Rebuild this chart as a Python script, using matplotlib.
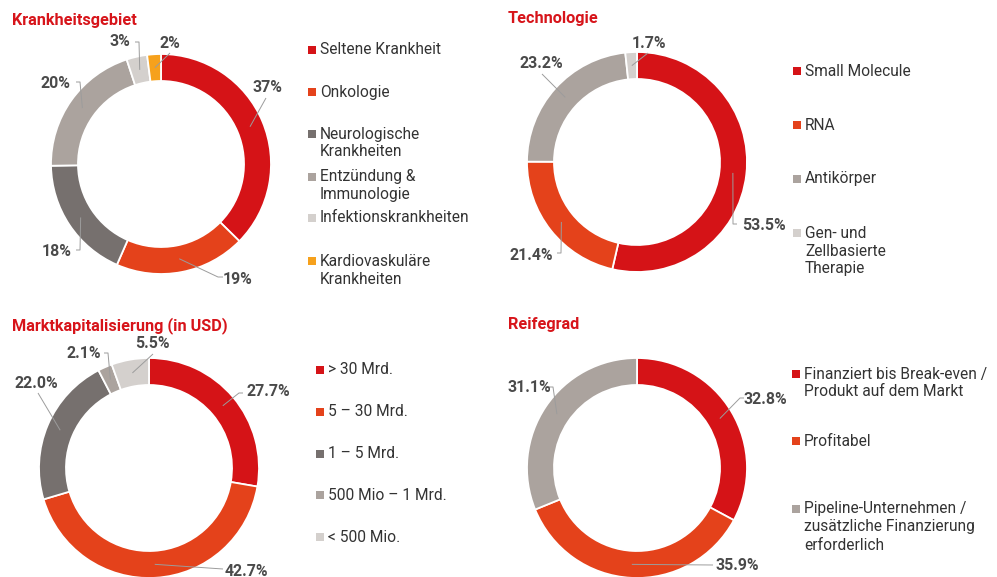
import matplotlib
matplotlib.use("Agg")
import matplotlib.pyplot as plt
import numpy as np

plt.rcParams['font.family'] = ['Roboto', 'DejaVu Sans']

W, H = 997, 577

# ---------------- data ----------------
titles = ["Krankheitsgebiet", "Technologie", "Marktkapitalisierung (in USD)", "Reifegrad"]

disease_labels = ["Seltene Krankheit", "Onkologie", "Neurologische\nKrankheiten",
                  "Entzündung &\nImmunologie", "Infektionskrankheiten",
                  "Kardiovaskuläre\nKrankheiten"]
disease_values = [37, 19, 18, 20, 3, 2]

tech_labels = ["Small Molecule", "RNA", "Antikörper", "Gen- und\nZellbasierte\nTherapie"]
tech_values = [53.5, 21.4, 23.2, 1.7]

cap_labels = ["> 30 Mrd.", "5 – 30 Mrd.", "1 – 5 Mrd.", "500 Mio – 1 Mrd.", "< 500 Mio."]
cap_values = [27.7, 42.7, 22.0, 2.1, 5.5]

mat_labels = ["Finanziert bis Break-even /\nProdukt auf dem Markt", "Profitabel",
              "Pipeline-Unternehmen /\nzusätzliche Finanzierung\nerforderlich"]
mat_values = [32.8, 35.9, 31.1]

# ---------------- style ----------------
RED = "#D51317"
ORANGE = "#E4421B"
DARK = "#76706E"
WARM = "#ABA39E"
LIGHT = "#D4D0CD"
YELLOW = "#F6A11C"
TITLE_C = "#D7141A"
LABEL_C = "#4a4a4a"
TEXT_C = "#333333"
LEAD_C = "#9c9c9c"

R = 110
RING = 27

panels = [
    dict(title=titles[0], tpos=(12, 20), values=disease_values, labels=disease_labels,
         colors=[RED, ORANGE, DARK, WARM, LIGHT, YELLOW], fmt="{:.0f}%",
         center=(161, 164), legx=312, legy=[50, 92, 134, 177, 218, 261],
         lab=[((267, 88), [(266, 98)]),
              ((238, 280), [(218, 277), (223, 277)]),
              ((57, 252), [(80, 250), (76, 250)]),
              ((55, 83), [(80, 82), (76, 82)]),
              ((120, 42), [(139, 42), (135, 42)]),
              ((170, 43), [(170, 53)])]),
    dict(title=titles[1], tpos=(508, 18), values=tech_values, labels=tech_labels,
         colors=[RED, ORANGE, WARM, LIGHT], fmt="{:.1f}%",
         center=(637, 162), legx=797, legy=[71, 125, 179, 233],
         lab=[((764, 225), [(733, 224), (737, 224)]),
              ((531, 255), [(561, 253), (557, 253)]),
              ((541, 63), [(542, 74)]),
              ((649, 43), [(648, 53)])]),
    dict(title=titles[2], tpos=(12, 326), values=cap_values, labels=cap_labels,
         colors=[RED, ORANGE, DARK, WARM, LIGHT], fmt="{:.1f}%",
         center=(149, 468), legx=320, legy=[370, 412, 454, 495, 537],
         lab=[((268, 392), [(239, 393), (243, 393)]),
              ((246, 571), [(223, 569)]),
              ((36, 383), [(38, 393)]),
              ((84, 354), [(108, 353), (104, 353)]),
              ((152, 343), [(153, 354)])]),
    dict(title=titles[3], tpos=(508, 325), values=mat_values, labels=mat_labels,
         colors=[RED, ORANGE, WARM], fmt="{:.1f}%",
         center=(637, 468), legx=796, legy=[374, 441, 509],
         lab=[((765, 400), [(740, 398), (744, 398)]),
              ((737, 566), [(713, 565)]),
              ((529, 388), [(553, 387), (549, 387)])]),
]

fig = plt.figure(figsize=(W / 100, H / 100), dpi=100)
ax = fig.add_axes([0, 0, 1, 1])


def Y(py):
    return H - py


for p in panels:
    cx, cy = p["center"]
    vals = np.array(p["values"], dtype=float)
    ax.pie(vals, colors=p["colors"], startangle=90, counterclock=False,
           center=(cx, Y(cy)), radius=R, frame=True,
           wedgeprops=dict(width=RING, edgecolor="white", linewidth=1.3))
    # title
    ax.text(p["tpos"][0], Y(p["tpos"][1]), p["title"], color=TITLE_C,
            fontsize=11.7, fontweight="bold", ha="left", va="center")
    # value labels with leader lines
    frac = vals / vals.sum()
    ends = 90 - 360 * np.cumsum(frac)
    starts = ends + 360 * frac
    mids = np.radians((starts + ends) / 2)
    rmid = R - RING / 2
    for i, v in enumerate(vals):
        ax0 = cx + rmid * np.cos(mids[i])
        ay0 = Y(cy) + rmid * np.sin(mids[i])
        (tx, ty), pts = p["lab"][i]
        xs = [ax0] + [q[0] for q in pts]
        ys = [ay0] + [Y(q[1]) for q in pts]
        ax.plot(xs, ys, color=LEAD_C, lw=0.7, solid_capstyle="butt", zorder=5)
        ax.text(tx, Y(ty), p["fmt"].format(v), color=LABEL_C, fontsize=11.4,
                fontweight="bold", ha="center", va="center", zorder=6)
    # legend
    for lab, col, ly in zip(p["labels"], p["colors"], p["legy"]):
        ax.scatter([p["legx"]], [Y(ly)], marker="s", s=26, color=col, linewidths=0)
        for k, line in enumerate(lab.split("\n")):
            ax.text(p["legx"] + 8, Y(ly + 18 * k), line, color=TEXT_C, fontsize=11.2,
                    ha="left", va="center")

ax.set_xlim(0, W)
ax.set_ylim(0, H)
ax.set_aspect("auto")
ax.axis("off")
fig.savefig("out.png", dpi=100, facecolor="white")
